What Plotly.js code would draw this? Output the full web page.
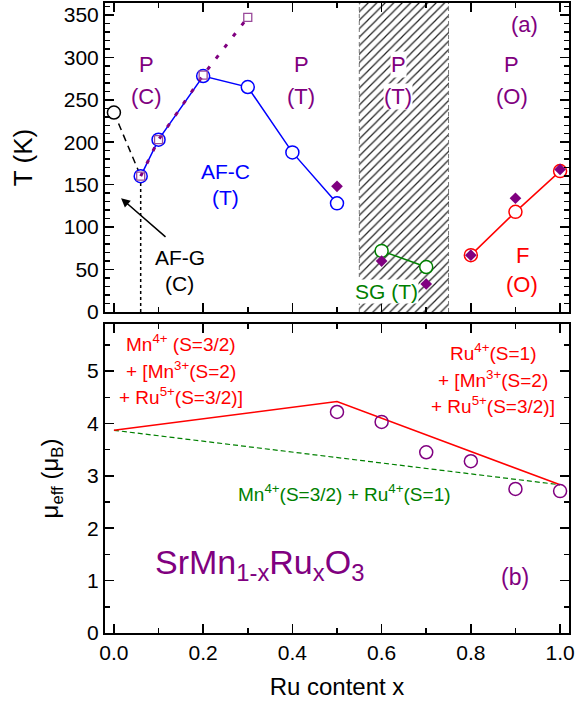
<!DOCTYPE html>
<html>
<head>
<meta charset="utf-8">
<script src="https://cdn.plot.ly/plotly-3.0.1.min.js"></script>
<style>html,body{margin:0;padding:0;background:#fff;}#chart{width:578px;height:707px;}</style>
</head>
<body>
<div id="chart"></div>
<script>
// ---- Panel (a): transition temperatures ----
var xBlack = [0.0, 0.06];
var tBlack = [235, 160];
var xBlue = [0.06, 0.1, 0.2, 0.3, 0.4, 0.5];
var tBlue = [160, 203, 278, 265, 188, 128];
var xSquare = [0.06, 0.1, 0.2, 0.3];
var tSquare = [160, 203, 279, 347];
var xDiamond = [0.5, 0.6, 0.7, 0.8, 0.9, 1.0];
var tDiamond = [148, 60, 33, 67, 134, 168];
var xGreen = [0.6, 0.7];
var tGreen = [72, 53];
var xRed = [0.8, 0.9, 1.0];
var tRed = [67, 118, 166];
var xVline = [0.06, 0.06];
var tVline = [0, 152];
var hatchX = [0.55, 0.75];
var tMax = 364;

// ---- Panel (b): effective moment ----
var xMu = [0.5, 0.6, 0.7, 0.8, 0.9, 1.0];
var muData = [4.22, 4.03, 3.45, 3.28, 2.75, 2.71];
var xModelRed = [0.0, 0.5, 1.0];
var muModelRed = [3.87, 4.42, 2.83];
var xModelGreen = [0.0, 1.0];
var muModelGreen = [3.87, 2.83];

var xTicks = [0, 0.2, 0.4, 0.6, 0.8, 1.0];
var xTickText = ['0.0', '0.2', '0.4', '0.6', '0.8', '1.0'];

var FONT = 'Liberation Sans, Arial, sans-serif';
var PURPLE = '#800080';
var axTop = {xaxis: 'x2', yaxis: 'y'};
var axBot = {xaxis: 'x', yaxis: 'y2'};

function mk(o, ax) { return Object.assign({}, o, ax); }

var traces = [
  mk({type: 'bar', x: [(hatchX[0] + hatchX[1]) / 2], y: [tMax], width: [hatchX[1] - hatchX[0]], base: 0,
     marker: {color: 'white', line: {width: 0},
       pattern: {shape: '/', fgcolor: '#222222', bgcolor: 'white', size: 6, solidity: 0.2, fillmode: 'replace'}},
     hoverinfo: 'skip'}, axTop),
  mk({x: xVline, y: tVline, mode: 'lines', line: {color: 'black', width: 1.5, dash: '3px,3px'}}, axTop),
  mk({x: xBlack, y: tBlack, mode: 'lines', line: {color: 'black', width: 1.5, dash: '7px,5px'}}, axTop),
  mk({x: xBlue, y: tBlue, mode: 'lines+markers', line: {color: '#0000ff', width: 1.5},
     marker: {symbol: 'circle', size: 13, color: 'white', line: {color: '#0000ff', width: 1.5}}}, axTop),
  mk({x: [xBlack[0]], y: [tBlack[0]], mode: 'markers',
     marker: {symbol: 'circle', size: 13, color: 'white', line: {color: 'black', width: 1.5}}}, axTop),
  mk({x: xSquare, y: tSquare, mode: 'lines+markers', line: {color: PURPLE, width: 3, dash: '4px,10px'},
     marker: {symbol: 'square-open', size: 8, color: '#9a4a9a', line: {width: 1.3}}}, axTop),
  mk({x: xGreen, y: tGreen, mode: 'lines+markers', line: {color: '#008000', width: 1.5},
     marker: {symbol: 'circle', size: 13, color: 'white', line: {color: '#008000', width: 1.5}}}, axTop),
  mk({x: xRed, y: tRed, mode: 'lines+markers', line: {color: '#ff0000', width: 1.5},
     marker: {symbol: 'circle', size: 13, color: 'white', line: {color: '#ff0000', width: 1.5}}}, axTop),
  mk({x: xDiamond, y: tDiamond, mode: 'markers',
     marker: {symbol: 'diamond', size: 9, color: PURPLE, line: {width: 0}}}, axTop),
  mk({x: xModelGreen, y: muModelGreen, mode: 'lines', line: {color: '#008000', width: 1.2, dash: '5px,3px'}}, axBot),
  mk({x: xModelRed, y: muModelRed, mode: 'lines', line: {color: '#ff0000', width: 1.5}}, axBot),
  mk({x: xMu, y: muData, mode: 'markers',
     marker: {symbol: 'circle-open', size: 13, color: PURPLE, line: {width: 1.5}}}, axBot)
];

// text labels: [text, x, y, size, color, bg]
var topLabels = [
  ['P', 0.074, 291, 22, PURPLE, false], ['(C)', 0.074, 254, 22, PURPLE, false],
  ['P', 0.42, 291, 22, PURPLE, false], ['(T)', 0.42, 254, 22, PURPLE, false],
  ['P', 0.637, 291, 22, PURPLE, true], ['(T)', 0.637, 254, 22, PURPLE, true],
  ['P', 0.892, 291, 22, PURPLE, false], ['(O)', 0.892, 254, 22, PURPLE, false],
  ['(a)', 0.92, 339, 22, PURPLE, false],
  ['AF-C', 0.251, 166, 21, '#0000ff', false], ['(T)', 0.251, 135, 21, '#0000ff', false],
  ['AF-G', 0.148, 64, 21, 'black', false], ['(C)', 0.148, 34, 21, 'black', false],
  ['SG (T)', 0.61, 24, 21, '#008000', true],
  ['F', 0.915, 66, 22, '#ff0000', false], ['(O)', 0.915, 32, 22, '#ff0000', false]
];
var botLabels = [
  ['Mn<sup>4+</sup> (S=3/2)', 0.15, 5.53, 19, '#ff0000'],
  ['+ [Mn<sup>3+</sup>(S=2)', 0.15, 5.02, 19, '#ff0000'],
  ['+ Ru<sup>5+</sup>(S=3/2)]', 0.15, 4.52, 19, '#ff0000'],
  ['Ru<sup>4+</sup>(S=1)', 0.85, 5.36, 19, '#ff0000'],
  ['+ [Mn<sup>3+</sup>(S=2)', 0.85, 4.85, 19, '#ff0000'],
  ['+ Ru<sup>5+</sup>(S=3/2)]', 0.85, 4.35, 19, '#ff0000'],
  ['Mn<sup>4+</sup>(S=3/2) + Ru<sup>4+</sup>(S=1)', 0.516, 2.67, 19, '#008000'],
  ['(b)', 0.90, 1.07, 23, PURPLE]
];

var annotations = [];
topLabels.forEach(function (l) {
  var a = {text: l[0], x: l[1], y: l[2], xref: 'x2', yref: 'y', showarrow: false,
    font: {family: FONT, size: l[3], color: l[4]}, borderpad: 0};
  if (l[5]) a.bgcolor = 'white';
  annotations.push(a);
});
botLabels.forEach(function (l) {
  annotations.push({text: l[0], x: l[1], y: l[2], xref: 'x', yref: 'y2', showarrow: false,
    font: {family: FONT, size: l[3], color: l[4]}});
});
annotations.push({text: 'SrMn<sub>1-x</sub>Ru<sub>x</sub>O<sub>3</sub>', x: 0.087, y: 1.3, xref: 'x', yref: 'y2',
  xanchor: 'left', showarrow: false, font: {family: FONT, size: 34, color: PURPLE}});
// arrow to AF-G region
annotations.push({text: '', x: 0.016, y: 134, ax: 0.119, ay: 87, xref: 'x2', yref: 'y', axref: 'x2', ayref: 'y',
  showarrow: true, arrowhead: 2, arrowsize: 1.2, arrowwidth: 1.5, arrowcolor: 'black', standoff: 0, startstandoff: 0});

var shapes = [hatchX[0], hatchX[1]].map(function (xv) {
  return {type: 'line', xref: 'x2', yref: 'y', x0: xv, x1: xv, y0: 0, y1: tMax,
    line: {color: '#777777', width: 1, dash: '4px,3px'}};
});

var axBase = {
  showline: true, linecolor: 'black', linewidth: 2, mirror: 'allticks',
  ticks: 'inside', tickcolor: 'black', tickwidth: 1.5, ticklen: 9,
  showgrid: false, zeroline: false,
  tickfont: {family: FONT, size: 21, color: 'black'}
};

var layout = {
  width: 578, height: 707,
  margin: {l: 105, r: 9, t: 3, b: 74},
  paper_bgcolor: 'white', plot_bgcolor: 'white',
  showlegend: false, bargap: 0,
  font: {family: FONT},
  xaxis: Object.assign({}, axBase, {
    domain: [0, 1], anchor: 'y2', range: [-0.02, 1.02],
    tickmode: 'array', tickvals: xTicks, ticktext: xTickText,
    minor: {dtick: 0.1, tick0: 0, ticks: 'inside', ticklen: 5, tickwidth: 1.5, tickcolor: 'black'},
    title: {text: 'Ru content x', font: {family: FONT, size: 24, color: 'black'}, standoff: 15}
  }),
  xaxis2: Object.assign({}, axBase, {
    domain: [0, 1], anchor: 'y', matches: 'x', range: [-0.02, 1.02],
    tickmode: 'array', tickvals: xTicks, showticklabels: false,
    minor: {dtick: 0.1, tick0: 0, ticks: 'inside', ticklen: 5, tickwidth: 1.5, tickcolor: 'black'}
  }),
  yaxis: Object.assign({}, axBase, {
    domain: [0.5095, 1], anchor: 'x2', range: [0, tMax],
    tick0: 0, dtick: 50,
    minor: {dtick: 10, tick0: 0, ticks: 'inside', ticklen: 5, tickwidth: 1.5, tickcolor: 'black'},
    title: {text: 'T (K)', font: {family: FONT, size: 26, color: 'black'}, standoff: 24}
  }),
  yaxis2: Object.assign({}, axBase, {
    domain: [0, 0.4905], anchor: 'x', range: [0, 5.9],
    tick0: 0, dtick: 1,
    minor: {dtick: 0.5, tick0: 0, ticks: 'inside', ticklen: 5, tickwidth: 1.5, tickcolor: 'black'},
    title: {text: '\u03bc<sub>eff</sub> (\u03bc<sub>B</sub>)', font: {family: FONT, size: 24, color: 'black'}, standoff: 22}
  }),
  annotations: annotations,
  shapes: shapes
};

Plotly.newPlot('chart', traces, layout, {displayModeBar: false, staticPlot: true});
</script>
</body>
</html>
